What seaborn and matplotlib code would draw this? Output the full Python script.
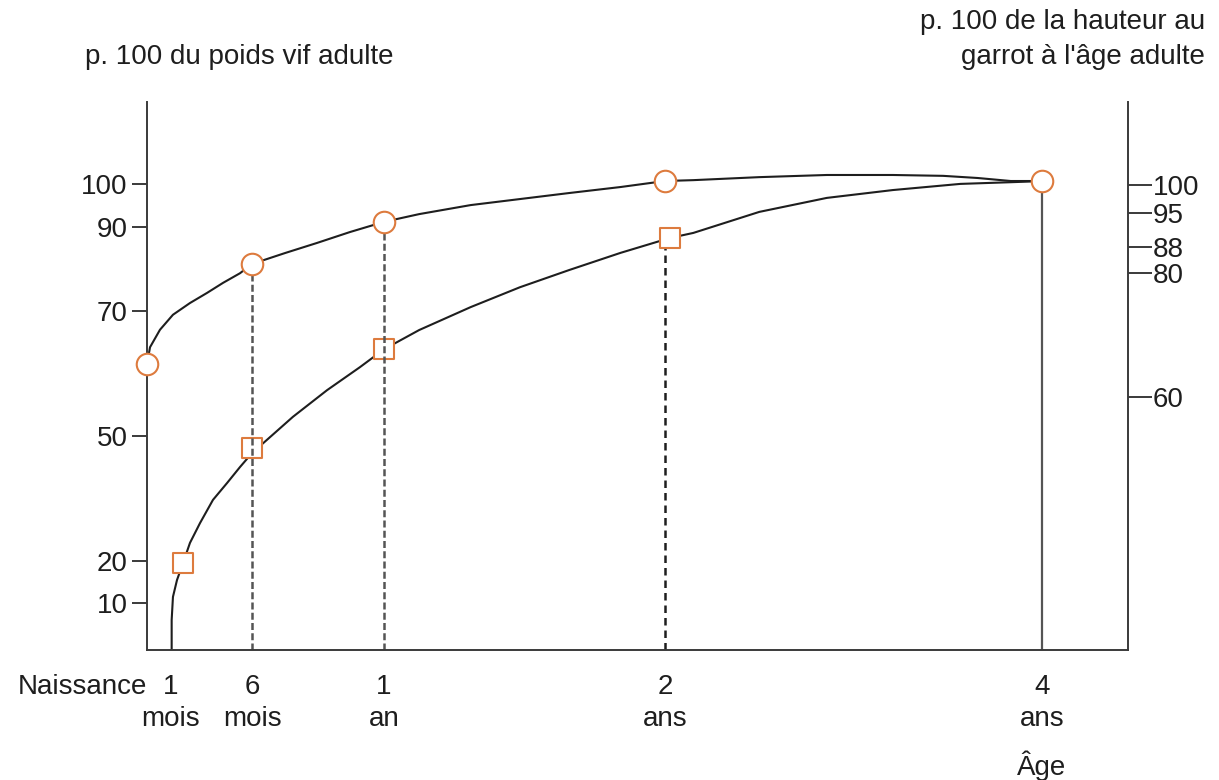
import numpy as np
import seaborn as sns
import matplotlib.pyplot as plt

# ages in months, values in % of the adult value
age_ticks = [0, 1, 6, 12, 24, 48]
age_labels = ['Naissance', '1\nmois', '6\nmois', '1\nan', '2\nans', '4\nans']
left_ticks = [10, 20, 50, 70, 90, 100]
right_ticks = [60, 80, 88, 95, 100]

# poids vif (left axis): traced curve + marked points
poids_age = [0, 0.125, 0.54, 1.12, 2.17, 3.22, 4.21, 5.26, 6, 7.5, 8.95, 10.45, 12,
             13.5, 15.7, 17.8, 19.9, 22.1, 24, 25.8, 30.0, 34.3, 38.5, 41.7, 43.9, 46.0, 48]
poids_val = [61.5, 64.2, 67.0, 69.4, 71.9, 74.3, 76.7, 79.0, 81.2, 83.8, 86.2, 88.8, 91.2,
             93.0, 95.1, 96.5, 97.9, 99.3, 100.7, 100.9, 101.6, 102.1, 102.1, 101.9, 101.4, 100.7, 100.7]
poids_pts_age = [0, 6, 12, 24, 48]
poids_pts_val = [61.5, 81.2, 91.2, 100.7, 100.7]

# hauteur au garrot (right axis)
taille_age = [1.04, 1.04, 1.12, 1.37, 1.74, 2.17, 2.79, 3.59, 4.46, 5.26, 6, 7.86, 9.41, 10.9,
              12, 13.5, 15.7, 17.8, 19.9, 22.1, 24.3, 25.8, 30.0, 34.3, 38.5, 42.8, 46.0, 48]
taille_val = [0, 7.1, 12.6, 16.6, 20.6, 25.4, 30.1, 35.6, 39.6, 43.4, 46.7, 55.3, 61.1, 64.8,
              67.7, 70.8, 74.5, 77.7, 80.9, 86.2, 89.85, 90.9, 95.2, 97.7, 99.1, 100.2, 100.5, 100.7]
taille_pts_age = [1.74, 6, 12, 24.3]
taille_pts_val = [20.6, 47.9, 67.7, 89.85]

# the drawing is schematic: ticks are not evenly spaced -> piecewise scales
x_anchor = [-20, 0, 1, 6, 12, 24, 48, 100]
x_units = [-480, 0, 24, 105, 237, 518, 895, 1711]
yl_anchor = [-50, 0, 10, 20, 50, 70, 90, 100, 200]
yl_units = [-235, 0, 47, 89, 214, 339, 423, 466, 896]
yr_anchor = [-50, 0, 60, 80, 88, 95, 100, 200]
yr_units = [-211, 0, 253, 377, 403, 437, 465, 1025]


def piecewise(a, b):
    return (lambda v: np.interp(v, a, b), lambda u: np.interp(u, b, a))


fx, fx_inv = piecewise(x_anchor, x_units)
fl, fl_inv = piecewise(yl_anchor, yl_units)
fr, fr_inv = piecewise(yr_anchor, yr_units)

sns.set_theme(style='white')
plt.rcParams['font.family'] = ['Liberation Sans', 'DejaVu Sans']

ink = '#1e1e1e'
grey = '#555555'
orange = '#dd7b3e'
fs = 20

fig, ax = plt.subplots(figsize=(12.19, 7.8), dpi=100)
fig.subplots_adjust(left=0.1206, right=0.9254, bottom=0.1667, top=0.8692)

ax.set_xscale('function', functions=(fx, fx_inv))
ax.set_yscale('function', functions=(fl, fl_inv))
ax.set_xlim(0, fx_inv(981))
ax.set_ylim(0, fl_inv(548))

ax2 = ax.twinx()
ax2.set_yscale('function', functions=(fr, fr_inv))
ax2.set_ylim(0, fr_inv(548))

# weight axis drawn above the height axis so the 4 ans circle stays on top
ax.set_zorder(ax2.get_zorder() + 1)
ax.patch.set_visible(False)

# guide lines
ax.vlines([6, 12], 0, [poids_pts_val[1], poids_pts_val[2]], color=grey, lw=1.8,
          linestyle=(0, (2.8, 1.3)), zorder=1)
ax.vlines(48, 0, poids_pts_val[4], color=grey, lw=1.6, zorder=1)
ax2.vlines(24, 0, taille_pts_val[3], color=ink, lw=1.8, linestyle=(0, (3, 2)), zorder=1)

# curves (estimator=None: keep every traced point, no aggregation)
sns.lineplot(x=taille_age, y=taille_val, sort=False, estimator=None, color=ink, lw=1.5,
             solid_joinstyle='round', ax=ax2)
sns.lineplot(x=poids_age, y=poids_val, sort=False, estimator=None, color=ink, lw=1.5,
             solid_joinstyle='round', ax=ax)

sns.scatterplot(x=taille_pts_age, y=taille_pts_val, marker='s', s=200, color='white',
                edgecolor=orange, linewidth=1.5, zorder=5, clip_on=False, ax=ax2)
sns.scatterplot(x=poids_pts_age, y=poids_pts_val, marker='o', s=240, color='white',
                edgecolor=orange, linewidth=1.5, zorder=5, clip_on=False, ax=ax)

# axes styling
for name in ['top', 'right']:
    ax.spines[name].set_visible(False)
for name in ['top', 'left', 'bottom']:
    ax2.spines[name].set_visible(False)
for sp in [ax.spines['left'], ax.spines['bottom'], ax2.spines['right']]:
    sp.set_color('#3a3a3a')
    sp.set_linewidth(1.4)

ax.set_xticks(age_ticks, labels=age_labels)
ax.xaxis.set_minor_locator(plt.NullLocator())
ax.tick_params(axis='x', length=0, pad=17, labelsize=fs, labelcolor=ink)
ax.get_xticklabels()[0].set_ha('right')
for lab in ax.get_xticklabels():
    lab.set_linespacing(1.3)

ax.set_yticks(left_ticks, labels=[str(t) for t in left_ticks])
ax.yaxis.set_minor_locator(plt.NullLocator())
ax.tick_params(axis='y', direction='out', length=11, width=1.4, color='#3a3a3a',
               pad=3, labelsize=fs, labelcolor=ink, left=True)

ax2.set_yticks(right_ticks, labels=[str(t) for t in right_ticks])
ax2.yaxis.set_minor_locator(plt.NullLocator())
ax2.tick_params(axis='y', direction='out', length=17, width=1.4, color='#3a3a3a',
                pad=1, labelsize=fs, labelcolor=ink, right=True)

ax.set_xlabel('')
ax.set_ylabel('')
ax2.set_ylabel('')

ax.annotate('Âge', xy=(48, 0), xycoords=('data', 'axes fraction'), xytext=(0, -83),
            textcoords='offset points', ha='center', va='center', fontsize=fs, color=ink)

fig.text(0.0697, 0.927, 'p. 100 du poids vif adulte', ha='left', va='center',
         fontsize=fs, color=ink)
fig.text(0.9885, 0.972, 'p. 100 de la hauteur au', ha='right', va='center',
         fontsize=fs, color=ink)
fig.text(0.9885, 0.927, "garrot à l'âge adulte", ha='right', va='center',
         fontsize=fs, color=ink)

plt.savefig('out.png', dpi=100)
